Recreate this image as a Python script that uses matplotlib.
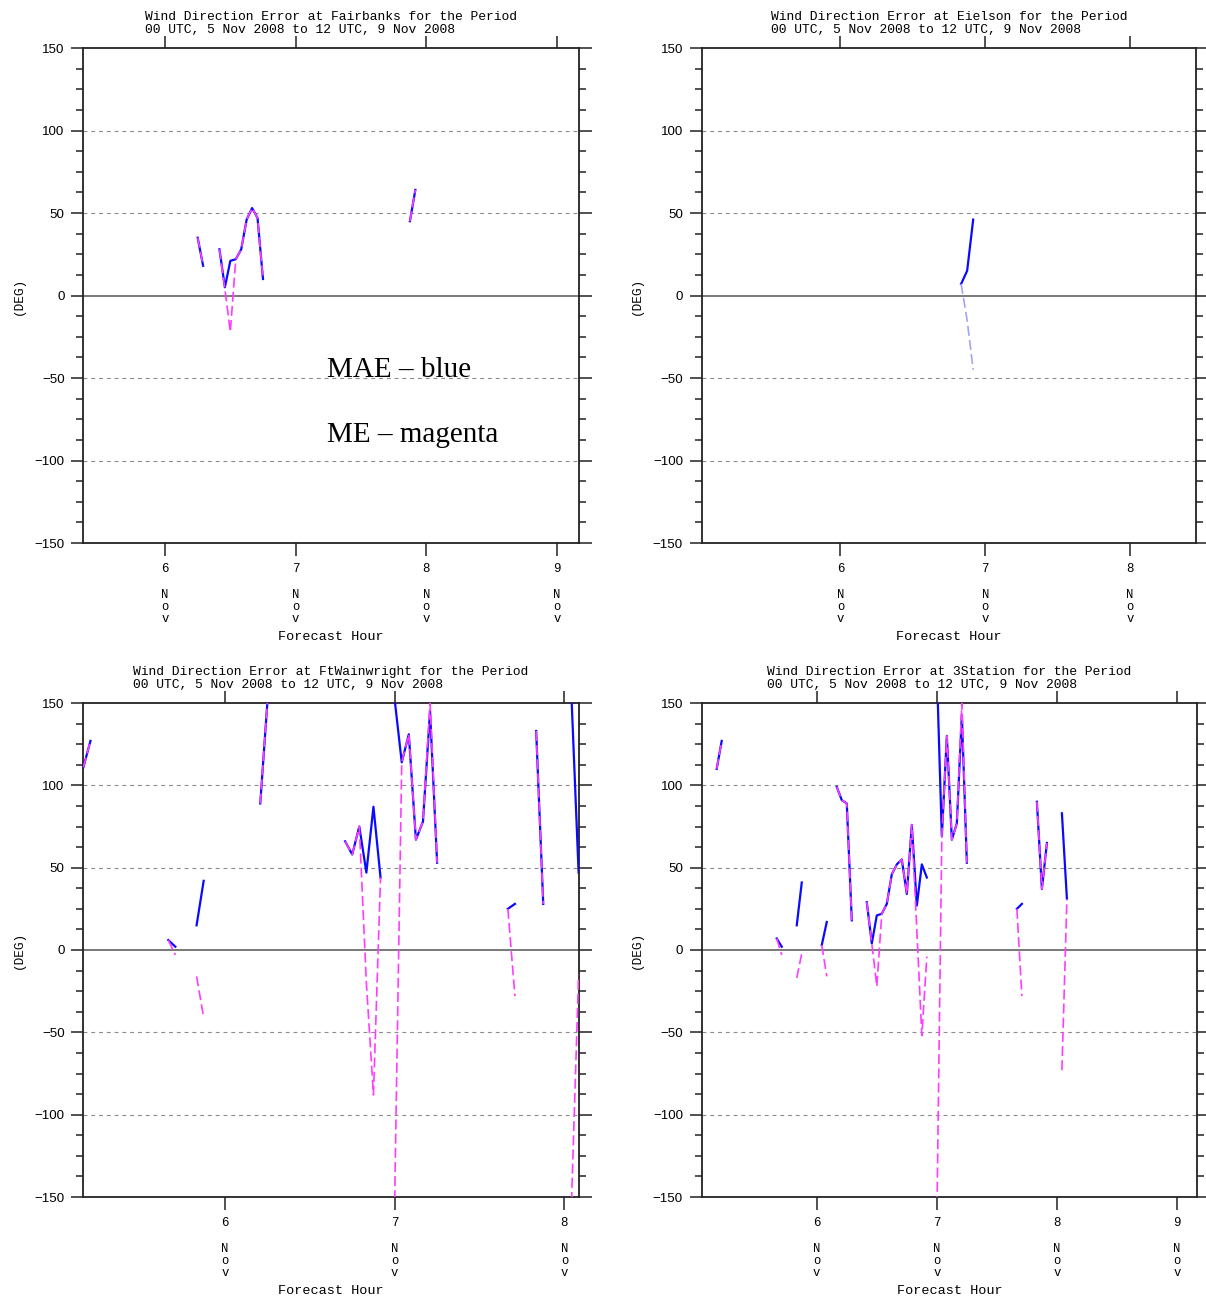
import numpy as np
import matplotlib
matplotlib.use('Agg')
import matplotlib.pyplot as plt
from matplotlib.ticker import MultipleLocator, FixedLocator, FixedFormatter

nan = np.nan

# hours after 00 UTC 5 Nov 2008, nan = missing (breaks the line)
fbk_hr = [30, 31, nan, 34, 35, 36, 37, 38, 39, 40, 41, 42, nan, 69, 70]
fbk_mae = [35, 18, nan, 28, 5, 21, 22, 28, 46, 53, 47, 10, nan, 45, 64]
fbk_me = [35, 18, nan, 28, 4, -22, 22, 28, 46, 53, 47, 10, nan, 45, 64]

eil_hr = [44, 45, 46]
eil_mae = [7, 15, 46]
eil_me = [7, -15, -45]

ftw_hr = [4, 5, nan, 16, 17, nan, 20, 21, nan, 29, 30, nan,
          41, 42, 43, 44, 45, 46, nan, 48, 49, 50, 51, 52, 53, 54, nan,
          64, 65, nan, 68, 69, nan, 73, 74]
ftw_mae = [111, 127, nan, 6, 2, nan, 15, 42, nan, 89, 150, nan,
           66, 58, 75, 47, 87, 44, nan, 152, 114, 131, 67, 78, 145, 53, nan,
           25, 28, nan, 133, 28, nan, 153, 47]
ftw_me = [111, 127, nan, 6, -3, nan, -16, -41, nan, 89, 150, nan,
          66, 58, 75, -20, -88, 44, nan, -152, 114, 131, 67, 78, 150, 53, nan,
          25, -28, nan, 133, 28, nan, -153, -15]

sta_hr = [4, 5, nan, 16, 17, nan, 20, 21, nan, 25, 26, nan, 28, 29, 30, 31, nan,
          34, 35, 36, 37, 38, 39, 40, 41, 42, 43, 44, 45, 46, nan,
          48, 49, 50, 51, 52, 53, 54, nan, 64, 65, nan, 68, 69, 70, nan, 73, 74]
sta_mae = [110, 127, nan, 7, 2, nan, 15, 41, nan, 3, 17, nan, 99, 91, 89, 18, nan,
           29, 4, 21, 22, 28, 46, 52, 55, 34, 76, 27, 52, 44, nan,
           170, 69, 130, 67, 77, 143, 53, nan, 25, 28, nan, 90, 37, 65, nan, 83, 31]
sta_me = [110, 127, nan, 7, -3, nan, -17, -2, nan, 3, -16, nan, 99, 91, 89, 18, nan,
          29, 4, -22, 22, 28, 46, 52, 55, 34, 76, 12, -52, -4, nan,
          -164, 69, 130, 67, 77, 150, 53, nan, 25, -28, nan, 90, 37, 65, nan, -73, 31]

stations = ['Fairbanks', 'Eielson', 'FtWainwright', '3Station']
xlims = [(5.375, 9.1667), (5.0417, 8.4583), (5.1667, 8.0833), (5.0417, 9.1667)]
ticks_days = [6, 7, 8, 9]

W, H = 1206, 1303
fig = plt.figure(figsize=(W / 100, H / 100), dpi=100)

boxes = [(83.4, 48, 578.6, 543), (701.7, 48, 1196.4, 543),
         (83.4, 703, 578.6, 1197), (701.7, 703, 1197.0, 1197)]

BLUE = '#0a0aff'
MAG = '#ff3cff'
mono = 'Liberation Mono'
PT = 0.72  # points per pixel


def draw_panel(ax, name, hr, mae, me, xlim, me_color):
    x = 5 + np.array(hr, dtype=float) / 24.0
    ax.axhline(0, color='#555555', lw=1.1, zorder=1)
    for g in (-100, -50, 50, 100):
        ax.axhline(g, color='#8c8c8c', lw=0.8, ls=(0, (3.5, 3.5)), zorder=1)
    ax.plot(x, mae, color=BLUE, lw=1.6, zorder=3)
    ax.plot(x, me, color=me_color, lw=1.2, ls=(0, (6, 2.5)), zorder=4)

    ax.set_xlim(*xlim)
    ax.set_ylim(-150, 150)
    days = [d for d in ticks_days if xlim[0] <= d <= xlim[1]]
    ax.xaxis.set_major_locator(FixedLocator(days))
    ax.xaxis.set_major_formatter(FixedFormatter([str(d) for d in days]))
    ax.yaxis.set_major_locator(MultipleLocator(50))
    ax.yaxis.set_minor_locator(MultipleLocator(12.5))
    ax.tick_params(which='both', direction='out', top=True, right=True,
                   labeltop=False, labelright=False, width=1.1, color='#222222')
    ax.tick_params(which='major', length=9)
    ax.tick_params(which='minor', length=5)
    ax.tick_params(axis='y', which='major', pad=4.5, labelsize=9.6)
    ax.tick_params(axis='x', which='major', pad=5.5, labelsize=9)
    for lab in ax.get_yticklabels():
        lab.set_family('Liberation Sans')
    for lab in ax.get_xticklabels():
        lab.set_family(mono)
    for s in ax.spines.values():
        s.set_linewidth(1.3)
        s.set_color('#222222')

    # month letters stacked under each day
    for d in days:
        for k, ch in enumerate('Nov'):
            ax.annotate(ch, xy=(d, 0), xycoords=('data', 'axes fraction'),
                        xytext=(0, -(52 + 12 * k) * PT), textcoords='offset points',
                        ha='center', va='center', family=mono, fontsize=8.8)

    ax.annotate('Forecast Hour', xy=(0.5, 0), xycoords='axes fraction',
                xytext=(0, -94 * PT), textcoords='offset points',
                ha='center', va='center', family=mono, fontsize=9.7)
    ax.annotate('(DEG)', xy=(0, 0.5), xycoords='axes fraction',
                xytext=(-65 * PT, 0), textcoords='offset points', rotation=90,
                ha='center', va='center', family=mono, fontsize=9.2)
    ax.annotate('Wind Direction Error at %s for the Period\n'
                '00 UTC, 5 Nov 2008 to 12 UTC, 9 Nov 2008' % name,
                xy=(0.5, 1), xycoords='axes fraction',
                xytext=(0, 12 * PT), textcoords='offset points',
                ha='center', va='bottom', multialignment='left',
                family=mono, fontsize=9.4, linespacing=1.12)


series = [(fbk_hr, fbk_mae, fbk_me, MAG), (eil_hr, eil_mae, eil_me, '#a4a4f2'),
          (ftw_hr, ftw_mae, ftw_me, MAG), (sta_hr, sta_mae, sta_me, MAG)]

for i in range(4):
    x0, y0, x1, y1 = boxes[i]
    ax = fig.add_axes([x0 / W, 1 - y1 / H, (x1 - x0) / W, (y1 - y0) / H])
    hr, mae, me, mc = series[i]
    draw_panel(ax, stations[i], hr, mae, me, xlims[i], mc)

fig.text(327 / W, 1 - 376.7 / H, 'MAE \u2013 blue', family='Liberation Serif',
         fontsize=21, va='baseline')
fig.text(327 / W, 1 - 441.7 / H, 'ME \u2013 magenta', family='Liberation Serif',
         fontsize=21, va='baseline')

fig.savefig('out.png', dpi=100)
